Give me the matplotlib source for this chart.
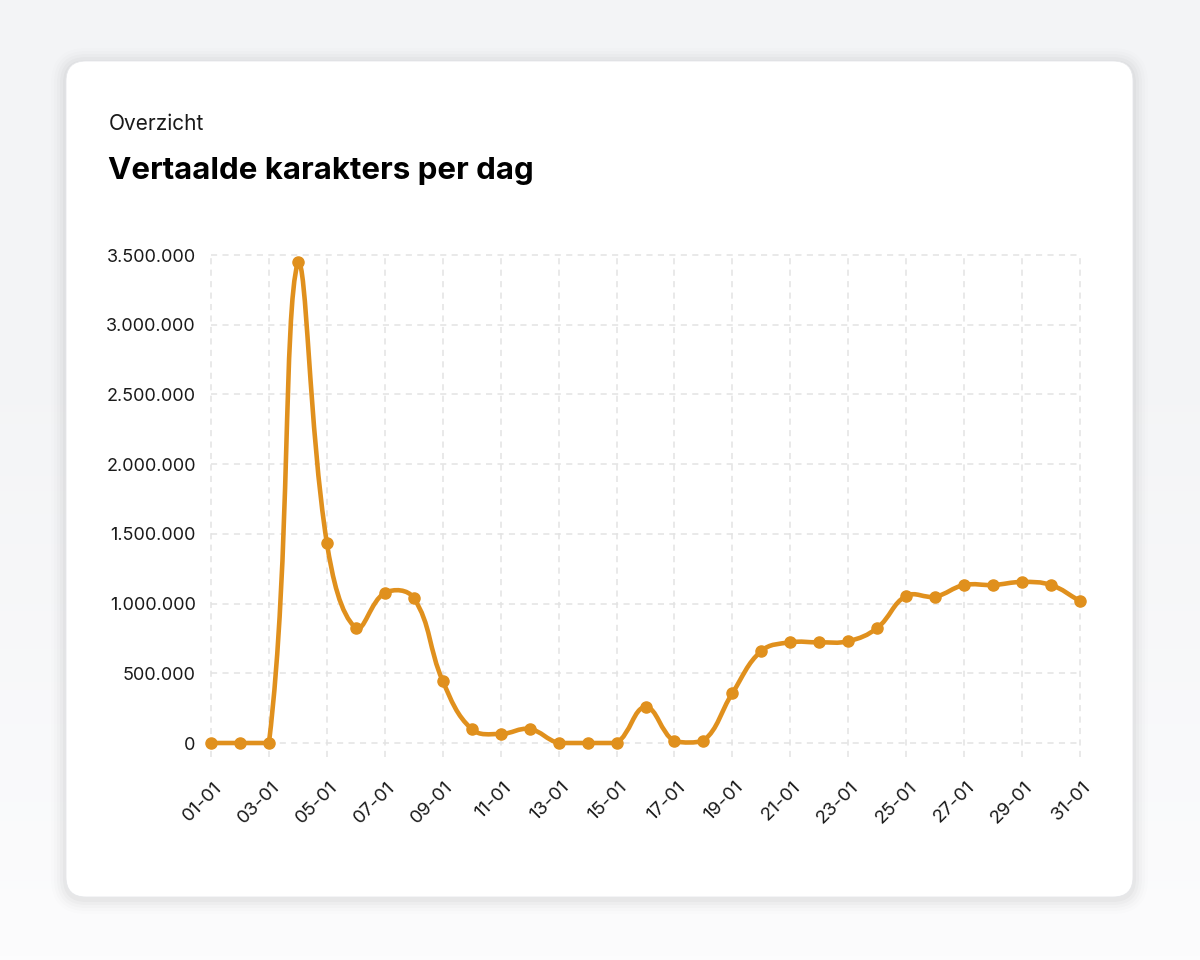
import numpy as np
import matplotlib
matplotlib.use('Agg')
from matplotlib import pyplot as plt
from matplotlib.patches import FancyBboxPatch
from matplotlib.path import Path
from matplotlib.patches import PathPatch
from matplotlib.ticker import FuncFormatter

# Characters translated per day, January
days = ['%02d-01' % d for d in range(1, 32)]
characters = [0, 0, 0, 3450000, 1435000, 825000, 1076000, 1040000, 445000,
              100000, 65000, 100000, 0, 0, 0, 258000, 12000, 15000, 358000,
              660000, 722000, 722000, 730000, 825000, 1055000, 1050000,
              1133000, 1133000, 1155000, 1133000, 1018000]
y_ticks = [0, 500000, 1000000, 1500000, 2000000, 2500000, 3000000, 3500000]

LINE = '#e0901d'
GRID = '#e3e3e3'
FONT = ['Inter', 'DejaVu Sans']
plt.rcParams['font.family'] = FONT

W, H = 1200, 960
fig = plt.figure(figsize=(12, 9.6), dpi=100)

# background + card, in pixel coordinates
bg = fig.add_axes([0, 0, 1, 1])
bg.set_xlim(0, W)
bg.set_ylim(H, 0)
bg.axis('off')
grad = np.linspace(0, 1, 256).reshape(-1, 1)
grad = np.clip((grad - 0.35) / 0.65, 0, 1)
top = np.array([243, 244, 246]) / 255
bottom = np.array([252, 252, 253]) / 255
img = top + (bottom - top) * grad[..., None]
bg.imshow(img, extent=[0, W, H, 0], aspect='auto', zorder=0)

cx0, cy0, cx1, cy1 = 66, 61, 1133, 897
for i, a in enumerate([0.025, 0.02, 0.015, 0.01, 0.006]):
    g = 3 + i * 3
    bg.add_patch(FancyBboxPatch((cx0 - g, cy0 - g + 2), cx1 - cx0 + 2 * g,
                                cy1 - cy0 + 2 * g,
                                boxstyle='round,pad=0,rounding_size=%d' % (20 + g),
                                fc='black', ec='none', alpha=a, zorder=1))
bg.add_patch(FancyBboxPatch((cx0, cy0), cx1 - cx0, cy1 - cy0,
                            boxstyle='round,pad=0,rounding_size=20',
                            fc='white', ec='#e6e7ea', lw=0.6, zorder=2))
bg.text(109, 124, 'Overzicht', fontsize=15, color='#1a1a1a',
        va='center', ha='left', zorder=3)
bg.text(108, 171, 'Vertaalde karakters per dag', fontsize=22.5,
        fontweight='bold', color='black', va='center', ha='left', zorder=3)

# chart
ax = fig.add_axes([211 / W, (H - 743) / H, (1080 - 211) / W, (743 - 255) / H])
ax.set_facecolor('none')
x = np.arange(len(days))
ax.set_xlim(0, len(days) - 1)
ax.set_ylim(0, 3500000)
for s in ax.spines.values():
    s.set_visible(False)

for xi in x[::2]:
    ax.plot([xi, xi], [-100000, 3500000], color=GRID, lw=1.1,
            ls=(0, (4, 3.5)), clip_on=False, zorder=1)
for yt in y_ticks:
    ax.plot([0, len(days) - 1], [yt, yt], color=GRID, lw=1.1,
            ls=(0, (4, 3.5)), clip_on=False, zorder=1)

# smooth line, chart.js style bezier (tension 0.4) computed in pixels
fig.canvas.draw()
pts = ax.transData.transform(np.column_stack([x, characters]))
box = ax.get_window_extent()
t = 0.4
n = len(pts)
cp_prev = pts.copy()
cp_next = pts.copy()
for i in range(n):
    prev = pts[i - 1] if i > 0 else pts[i]
    nxt = pts[i + 1] if i < n - 1 else pts[i]
    d01 = np.hypot(*(pts[i] - prev))
    d12 = np.hypot(*(nxt - pts[i]))
    tot = d01 + d12
    s01 = d01 / tot if tot else 0
    s12 = d12 / tot if tot else 0
    cp_prev[i] = pts[i] - t * s01 * (nxt - prev)
    cp_next[i] = pts[i] + t * s12 * (nxt - prev)
for c in (cp_prev, cp_next):
    c[:, 0] = np.clip(c[:, 0], box.x0, box.x1)
    c[:, 1] = np.clip(c[:, 1], box.y0, box.y1)
verts = [pts[0]]
codes = [Path.MOVETO]
for i in range(n - 1):
    verts += [cp_next[i], cp_prev[i + 1], pts[i + 1]]
    codes += [Path.CURVE4] * 3
verts = ax.transData.inverted().transform(np.array(verts))
ax.add_patch(PathPatch(Path(verts, codes), fc='none', ec=LINE, lw=3.3,
                       capstyle='round', joinstyle='round', clip_on=False,
                       zorder=3))
ax.plot(x, characters, 'o', color=LINE, ms=8, clip_on=False, zorder=4)

ax.set_yticks(y_ticks)
ax.yaxis.set_major_formatter(FuncFormatter(
    lambda v, p: '{:,.0f}'.format(v).replace(',', '.')))
ax.set_xticks(x[::2])
ax.set_xticklabels(days[::2], rotation=45, ha='right', va='center',
                   rotation_mode='anchor')
ax.tick_params(axis='y', length=0, pad=11, labelsize=13, labelcolor='#1a1a1a')
ax.tick_params(axis='x', length=0, pad=30, labelsize=13.5, labelcolor='#1a1a1a')
for lab in ax.get_xticklabels():
    lab.set_x(lab.get_position()[0])
    lab.set_transform(lab.get_transform() +
                      matplotlib.transforms.ScaledTranslation(8 / 100, 0,
                                                              fig.dpi_scale_trans))

fig.savefig('out.png', dpi=100)
